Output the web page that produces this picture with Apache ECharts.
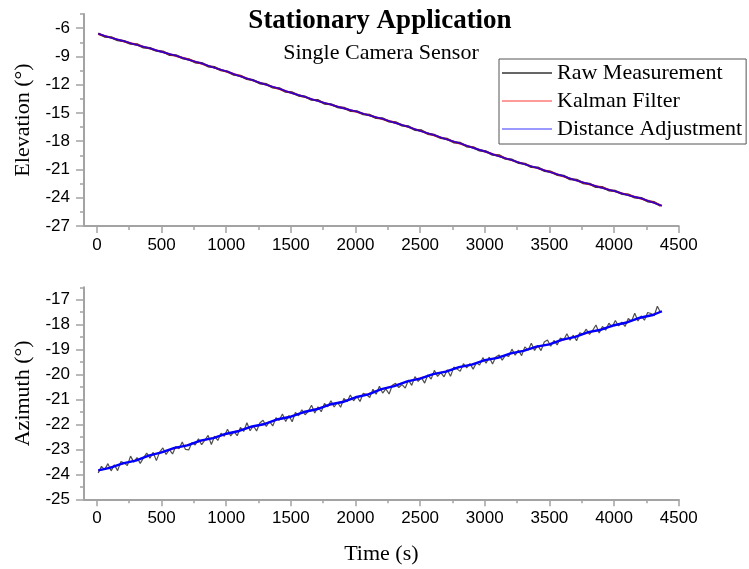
<!DOCTYPE html>
<html>
<head>
<meta charset="utf-8">
<script src="https://cdn.jsdelivr.net/npm/echarts@6/dist/echarts.min.js"></script>
<style>
  html, body { margin: 0; padding: 0; background: #fff; }
  #chart { width: 749px; height: 569px; }
</style>
</head>
<body>
<div id="chart"></div>
<script>
// ---- Series names ----
const seriesNames = ['Raw Measurement', 'Kalman Filter', 'Distance Adjustment'];

// ---- Tick labels ----
const timeTicks = [0, 500, 1000, 1500, 2000, 2500, 3000, 3500, 4000, 4500];
const timeMinorTicks = [250, 750, 1250, 1750, 2250, 2750, 3250, 3750, 4250];
const elevTicks = [-27, -24, -21, -18, -15, -12, -9, -6];
const elevMinorTicks = [-25.5, -22.5, -19.5, -16.5, -13.5, -10.5, -7.5, -4.5];
const azTicks = [-25, -24, -23, -22, -21, -20, -19, -18, -17];
const azMinorTicks = [-24.5, -23.5, -22.5, -21.5, -20.5, -19.5, -18.5, -17.5, -16.5];

// ---- Elevation: raw samples (every 50 s) ----
const tRawElev = [10, 60, 110, 160, 210, 260, 310, 360, 410, 460, 510, 560, 610, 660, 710, 760, 810, 860, 910, 960,
  1010, 1060, 1110, 1160, 1210, 1260, 1310, 1360, 1410, 1460, 1510, 1560, 1610, 1660, 1710, 1760, 1810, 1860, 1910, 1960,
  2010, 2060, 2110, 2160, 2210, 2260, 2310, 2360, 2410, 2460, 2510, 2560, 2610, 2660, 2710, 2760, 2810, 2860, 2910, 2960,
  3010, 3060, 3110, 3160, 3210, 3260, 3310, 3360, 3410, 3460, 3510, 3560, 3610, 3660, 3710, 3760, 3810, 3860, 3910, 3960,
  4010, 4060, 4110, 4160, 4210, 4260, 4310, 4360];
const rawElev = [-6.58, -6.90, -6.97, -7.28, -7.38, -7.66, -7.72, -8.05, -8.12, -8.40, -8.49, -8.83, -8.88, -9.18, -9.31, -9.63,
  -9.71, -10.05, -10.14, -10.47, -10.60, -10.95, -11.05, -11.40, -11.52, -11.86, -11.94, -12.30, -12.39, -12.75, -12.82, -13.16,
  -13.27, -13.60, -13.65, -14.01, -14.08, -14.38, -14.46, -14.78, -14.82, -15.14, -15.21, -15.54, -15.58, -15.91, -16.00, -16.33,
  -16.43, -16.80, -16.86, -17.22, -17.33, -17.66, -17.76, -18.12, -18.18, -18.54, -18.64, -18.98, -19.08, -19.44, -19.50, -19.86,
  -19.96, -20.30, -20.39, -20.74, -20.79, -21.14, -21.23, -21.57, -21.67, -22.03, -22.09, -22.44, -22.52, -22.85, -22.88, -23.21,
  -23.28, -23.59, -23.66, -23.97, -24.04, -24.38, -24.47, -24.86];

// ---- Filtered samples (every 100 s) ----
const tSmooth = [10, 100, 200, 300, 400, 500, 600, 700, 800, 900, 1000, 1100, 1200, 1300, 1400, 1500, 1600, 1700, 1800, 1900,
  2000, 2100, 2200, 2300, 2400, 2500, 2600, 2700, 2800, 2900, 3000, 3100, 3200, 3300, 3400, 3500, 3600, 3700, 3800, 3900,
  4000, 4100, 4200, 4300, 4370];
const kalmanElev = [-6.62, -6.98, -7.37, -7.74, -8.12, -8.50, -8.90, -9.30, -9.72, -10.16, -10.60, -11.06, -11.52, -11.97, -12.41,
  -12.85, -13.27, -13.69, -14.09, -14.47, -14.85, -15.23, -15.61, -16.01, -16.45, -16.90, -17.34, -17.78, -18.22, -18.66,
  -19.10, -19.54, -19.98, -20.41, -20.83, -21.25, -21.69, -22.13, -22.54, -22.92, -23.30, -23.68, -24.06, -24.48, -24.85];
const distElev = [-6.60, -7.00, -7.35, -7.76, -8.10, -8.52, -8.88, -9.32, -9.70, -10.18, -10.58, -11.08, -11.50, -11.99, -12.39,
  -12.87, -13.25, -13.71, -14.07, -14.49, -14.83, -15.25, -15.59, -16.03, -16.43, -16.92, -17.32, -17.80, -18.20, -18.68,
  -19.08, -19.56, -19.96, -20.43, -20.81, -21.27, -21.67, -22.15, -22.52, -22.94, -23.28, -23.70, -24.04, -24.50, -24.86];

// ---- Azimuth: raw samples (every 25 s) ----
const tRawAz = [10, 35, 60, 85, 110, 135, 160, 185, 210, 235, 260, 285, 310, 335, 360, 385, 410, 435, 460, 485,
  510, 535, 560, 585, 610, 635, 660, 685, 710, 735, 760, 785, 810, 835, 860, 885, 910, 935, 960, 985,
  1010, 1035, 1060, 1085, 1110, 1135, 1160, 1185, 1210, 1235, 1260, 1285, 1310, 1335, 1360, 1385, 1410, 1435, 1460, 1485,
  1510, 1535, 1560, 1585, 1610, 1635, 1660, 1685, 1710, 1735, 1760, 1785, 1810, 1835, 1860, 1885, 1910, 1935, 1960, 1985,
  2010, 2035, 2060, 2085, 2110, 2135, 2160, 2185, 2210, 2235, 2260, 2285, 2310, 2335, 2360, 2385, 2410, 2435, 2460, 2485,
  2510, 2535, 2560, 2585, 2610, 2635, 2660, 2685, 2710, 2735, 2760, 2785, 2810, 2835, 2860, 2885, 2910, 2935, 2960, 2985,
  3010, 3035, 3060, 3085, 3110, 3135, 3160, 3185, 3210, 3235, 3260, 3285, 3310, 3335, 3360, 3385, 3410, 3435, 3460, 3485,
  3510, 3535, 3560, 3585, 3610, 3635, 3660, 3685, 3710, 3735, 3760, 3785, 3810, 3835, 3860, 3885, 3910, 3935, 3960, 3985,
  4010, 4035, 4060, 4085, 4110, 4135, 4160, 4185, 4210, 4235, 4260, 4285, 4310, 4335, 4360];
const rawAz = [
  -23.95, -23.68, -23.81, -23.57, -23.86, -23.62, -23.85, -23.49, -23.54, -23.65, -23.27, -23.51,
  -23.33, -23.56, -23.34, -23.15, -23.35, -23.12, -23.45, -23.11, -22.94, -23.20, -23.01, -23.18,
  -22.88, -22.97, -22.70, -23.00, -23.02, -22.72, -22.82, -22.57, -22.81, -22.63, -22.44, -22.80,
  -22.47, -22.64, -22.35, -22.47, -22.19, -22.46, -22.29, -22.45, -22.12, -22.28, -21.93, -22.25,
  -22.05, -22.26, -21.94, -21.83, -22.08, -21.88, -22.06, -21.73, -21.83, -21.58, -21.88, -21.64,
  -21.89, -21.52, -21.65, -21.41, -21.61, -21.47, -21.23, -21.54, -21.29, -21.49, -21.16, -21.29,
  -21.05, -21.30, -21.11, -21.31, -20.96, -21.09, -20.82, -21.05, -20.87, -21.08, -20.75, -20.80,
  -20.92, -20.59, -20.79, -20.47, -20.74, -20.57, -20.78, -20.43, -20.35, -20.52, -20.40, -20.54,
  -20.22, -20.43, -20.08, -20.27, -20.12, -20.34, -20.01, -20.18, -19.83, -20.07, -19.92, -20.09,
  -19.81, -20.07, -19.70, -19.77, -19.87, -19.56, -19.73, -19.56, -19.78, -19.53, -19.62, -19.32,
  -19.54, -19.30, -19.58, -19.29, -19.21, -19.42, -19.22, -19.27, -18.98, -19.22, -19.02, -19.24,
  -18.89, -19.02, -18.74, -19.03, -18.83, -19.04, -18.69, -18.61, -18.86, -18.63, -18.81, -18.53,
  -18.61, -18.36, -18.62, -18.42, -18.64, -18.32, -18.38, -18.18, -18.39, -18.22, -18.01, -18.33,
  -18.07, -18.22, -17.94, -18.09, -17.83, -18.05, -17.90, -18.07, -17.75, -17.86, -17.54, -17.85,
  -17.65, -17.82, -17.51, -17.55, -17.64, -17.26, -17.52];
const kalmanAz = [-23.86, -23.72, -23.58, -23.43, -23.27, -23.11, -22.96, -22.82, -22.67, -22.53, -22.39, -22.24, -22.10,
  -21.96, -21.81, -21.67, -21.52, -21.37, -21.22, -21.08, -20.93, -20.77, -20.60, -20.44, -20.29, -20.14, -20.00, -19.86,
  -19.72, -19.58, -19.44, -19.31, -19.17, -19.03, -18.90, -18.77, -18.62, -18.47, -18.32, -18.18, -18.04, -17.89, -17.74,
  -17.59, -17.47];
const distAz = [-23.84, -23.74, -23.56, -23.45, -23.25, -23.12, -22.94, -22.84, -22.65, -22.55, -22.37, -22.26, -22.08,
  -21.98, -21.79, -21.69, -21.50, -21.39, -21.20, -21.10, -20.91, -20.79, -20.58, -20.46, -20.27, -20.16, -19.98, -19.88,
  -19.70, -19.60, -19.42, -19.33, -19.15, -19.05, -18.88, -18.79, -18.60, -18.49, -18.30, -18.20, -18.02, -17.91, -17.72,
  -17.61, -17.46];

const zip = (xs, ys) => xs.map((x, i) => [x, ys[i]]);

const SERIF = 'Liberation Serif';
const SANS = 'Liberation Sans';
const AXIS_GREY = '#a3a3a3';
const PLOT_LEFT = 84, PLOT_W = 594.7, PLOT_H = 212;
const TOP_Y = 14, BOTTOM_Y = 287.3;

// Main axes (line, major ticks, labels); the minor ticks live on an overlaid grid
function majorX(gridIndex, withName) {
  return {
    type: 'value', gridIndex, min: -100, max: 4500, position: 'bottom',
    name: withName ? 'Time (s)' : '', nameLocation: 'middle', nameGap: 44,
    nameTextStyle: { fontFamily: SERIF, fontSize: 22, color: '#000' },
    axisLine: { show: true, onZero: false, lineStyle: { color: AXIS_GREY, width: 2 } },
    axisTick: { show: true, inside: false, length: 7, customValues: timeTicks, lineStyle: { color: AXIS_GREY, width: 1.5 } },
    axisLabel: { customValues: timeTicks, formatter: v => String(v), fontFamily: SANS, fontSize: 17, color: '#000', margin: 11 },
    splitLine: { show: false }
  };
}
function minorX(gridIndex) {
  return {
    type: 'value', gridIndex, min: -100, max: 4500, position: 'bottom',
    axisLine: { show: false, onZero: false },
    axisTick: { show: true, inside: false, length: 4, customValues: timeMinorTicks, lineStyle: { color: AXIS_GREY, width: 1.5 } },
    axisLabel: { show: false },
    splitLine: { show: false }
  };
}
function majorY(gridIndex, name, min, max, ticks) {
  return {
    type: 'value', gridIndex, min, max, position: 'left',
    name, nameLocation: 'middle', nameGap: 50,
    nameTextStyle: { fontFamily: SERIF, fontSize: 22, color: '#000' },
    axisLine: { show: true, onZero: false, lineStyle: { color: AXIS_GREY, width: 2 } },
    axisTick: { show: true, inside: false, length: 8, customValues: ticks, lineStyle: { color: AXIS_GREY, width: 1.5 } },
    axisLabel: { customValues: ticks, formatter: v => String(v), fontFamily: SANS, fontSize: 17, color: '#000', margin: 14 },
    splitLine: { show: false }
  };
}
function minorY(gridIndex, min, max, ticks) {
  return {
    type: 'value', gridIndex, min, max, position: 'left',
    axisLine: { show: false, onZero: false },
    axisTick: { show: true, inside: false, length: 4, customValues: ticks, lineStyle: { color: AXIS_GREY, width: 1.5 } },
    axisLabel: { show: false },
    splitLine: { show: false }
  };
}

function lineSeries(name, data, idx, color, width, opacity, z) {
  return {
    name, type: 'line', data, xAxisIndex: idx, yAxisIndex: idx,
    symbol: 'none', showSymbol: false, smooth: false, z,
    lineStyle: { color, width, opacity },
    itemStyle: { color }
  };
}

const chart = echarts.init(document.getElementById('chart'), null, { renderer: 'canvas' });
chart.setOption({
  animation: false,
  backgroundColor: '#fff',
  title: [
    { text: 'Stationary Application', left: 375, top: 3, textAlign: 'center',
      textStyle: { fontFamily: SERIF, fontWeight: 'bold', fontSize: 27, color: '#000' } },
    { text: 'Single Camera Sensor', left: 376, top: 37, textAlign: 'center',
      textStyle: { fontFamily: SERIF, fontWeight: 'normal', fontSize: 22, color: '#000' } }
  ],
  legend: {
    orient: 'vertical', left: 499, top: 59,
    padding: [3, 4, 4, 3], itemGap: 6, itemWidth: 50, itemHeight: 1.5,
    icon: 'rect',
    backgroundColor: '#fff', borderColor: '#555', borderWidth: 1, borderRadius: 0,
    textStyle: { fontFamily: SERIF, fontSize: 22, color: '#000', lineHeight: 22 },
    data: [
      { name: seriesNames[0], icon: 'rect', itemStyle: { color: '#333' } },
      { name: seriesNames[1], icon: 'rect', itemStyle: { color: '#ff7a7a' } },
      { name: seriesNames[2], icon: 'rect', itemStyle: { color: '#7a7aff' } }
    ]
  },
  grid: [
    { left: PLOT_LEFT, top: TOP_Y, width: PLOT_W, height: PLOT_H },
    { left: PLOT_LEFT, top: BOTTOM_Y, width: PLOT_W, height: PLOT_H },
    { left: PLOT_LEFT, top: TOP_Y, width: PLOT_W, height: PLOT_H },
    { left: PLOT_LEFT, top: BOTTOM_Y, width: PLOT_W, height: PLOT_H }
  ],
  xAxis: [majorX(0, false), majorX(1, true), minorX(2), minorX(3)],
  yAxis: [
    majorY(0, 'Elevation (°)', -27, -4.5, elevTicks),
    majorY(1, 'Azimuth (°)', -25, -16.5, azTicks),
    minorY(2, -27, -4.5, elevMinorTicks),
    minorY(3, -25, -16.5, azMinorTicks)
  ],
  series: [
    lineSeries(seriesNames[0], zip(tRawElev, rawElev), 0, '#111', 2.2, 0.85, 2),
    lineSeries(seriesNames[1], zip(tSmooth, kalmanElev), 0, '#ff0000', 2, 0.8, 3),
    lineSeries(seriesNames[2], zip(tSmooth, distElev), 0, '#0000ff', 1.6, 0.8, 4),
    lineSeries(seriesNames[0], zip(tRawAz, rawAz), 1, '#222', 1.2, 0.8, 2),
    lineSeries(seriesNames[1], zip(tSmooth, kalmanAz), 1, '#ff0000', 1.5, 0.6, 3),
    lineSeries(seriesNames[2], zip(tSmooth, distAz), 1, '#0000ff', 2.4, 1, 4)
  ]
});
</script>
</body>
</html>
